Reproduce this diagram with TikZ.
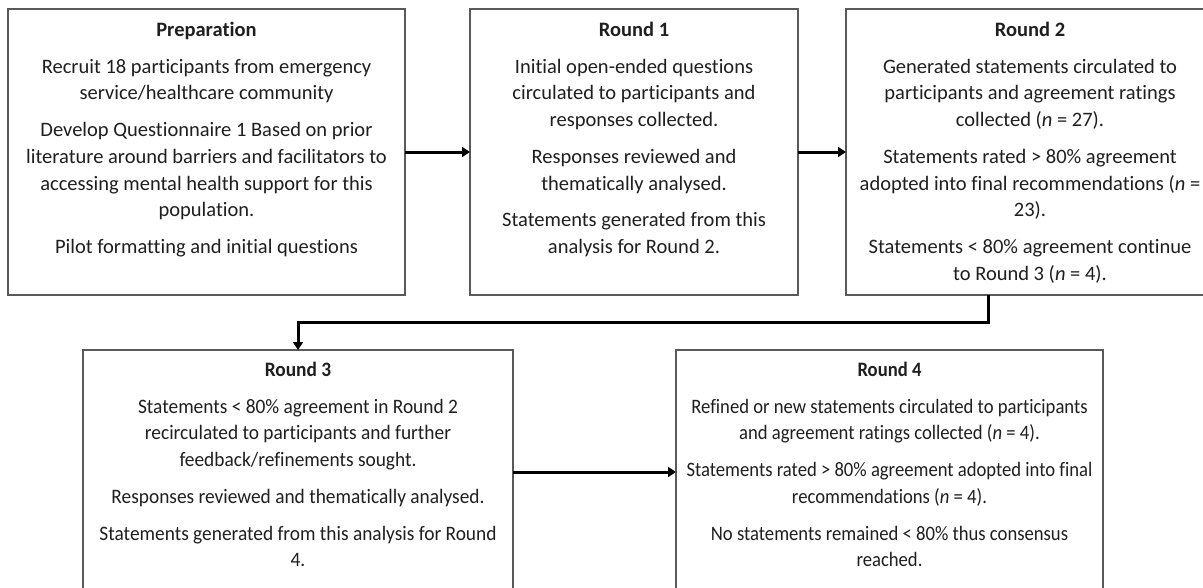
\documentclass[tikz,border=0pt]{standalone}
\usepackage{fontspec}
\setmainfont{Carlito}[Ligatures=NoCommon]
\usetikzlibrary{arrows.meta}
\begin{document}
\begin{tikzpicture}[x=1pt,y=-1pt,
  box/.style={draw=black!65, line width=1.1pt, rectangle, inner sep=0pt, outer sep=0pt, anchor=north west},
  txt/.style={anchor=north, align=center, inner sep=0pt, text=black!88, font=\fontsize{20.5}{26.7}\selectfont},
  arr/.style={line width=3pt, -{Triangle[length=8pt,width=10pt]}}]
\useasboundingbox (0,0) rectangle (1203,587);
\clip (0,0) rectangle (1203,587);
\fill[white] (0,0) rectangle (1203,587);
% boxes
\node[box, minimum width=397pt, minimum height=286pt] (prep) at (8,9) {};
\node[box, minimum width=328pt, minimum height=286pt] (r1) at (470,9) {};
\node[box, minimum width=368pt, minimum height=286pt] (r2) at (846,9) {};
\node[box, minimum width=430pt, minimum height=260pt] (r3) at (83,350) {};
\node[box, minimum width=427pt, minimum height=260pt] (r4) at (676,350) {};
% texts
\node[txt] (tprep) at ([yshift=-13pt]prep.north) {\textbf{Preparation}\\[10pt]
Recruit 18 participants from emergency\\ service/healthcare community\\[10pt]
Develop Questionnaire 1 Based on prior\\ literature around barriers and facilitators to\\ accessing mental health support for this\\ population.\\[10pt]
Pilot formatting and initial questions};
\node[txt] (tr1) at ([yshift=-13pt]r1.north) {\textbf{Round 1}\\[10pt]
Initial open-ended questions\\ circulated to participants and\\ responses collected.\\[10pt]
Responses reviewed and\\ thematically analysed.\\[10pt]
Statements generated from this\\ analysis for Round 2.};
\node[txt] (tr2) at ([yshift=-13pt]r2.north) {\textbf{Round 2}\\[10pt]
Generated statements circulated to\\ participants and agreement ratings\\ collected (\textit{n} = 27).\\[10pt]
Statements rated > 80\% agreement\\ adopted into final recommendations (\textit{n} =\\ 23).\\[10pt]
Statements < 80\% agreement continue\\ to Round 3 (\textit{n} = 4).};
\node[txt, xscale=0.945, transform shape] (tr3) at ([yshift=-12pt]r3.north) {\textbf{Round 3}\\[10pt]
Statements < 80\% agreement in Round 2\\ recirculated to participants and further\\ feedback/refinements sought.\\[10pt]
Responses reviewed and thematically analysed.\\[10pt]
Statements generated from this analysis for Round\\ 4.};
\node[txt, xscale=0.91, transform shape] (tr4) at ([yshift=-12pt]r4.north) {\textbf{Round 4}\\[10pt]
Refined or new statements circulated to participants\\ and agreement ratings collected (\textit{n} = 4).\\[10pt]
Statements rated > 80\% agreement adopted into final\\ recommendations (\textit{n} = 4).\\[10pt]
No statements remained < 80\% thus consensus\\ reached.};
% connectors
\coordinate (elbow) at (988,322);
\coordinate (low) at (0,472);
\draw[arr] (prep.east) -- (r1.west);
\draw[arr] (r1.east) -- (r2.west);
\draw[arr] (r2.south -| elbow) -- (elbow) -| (r3.north);
\draw[arr] (r3.east |- low) -- (r4.west |- low);
\end{tikzpicture}
\end{document}
